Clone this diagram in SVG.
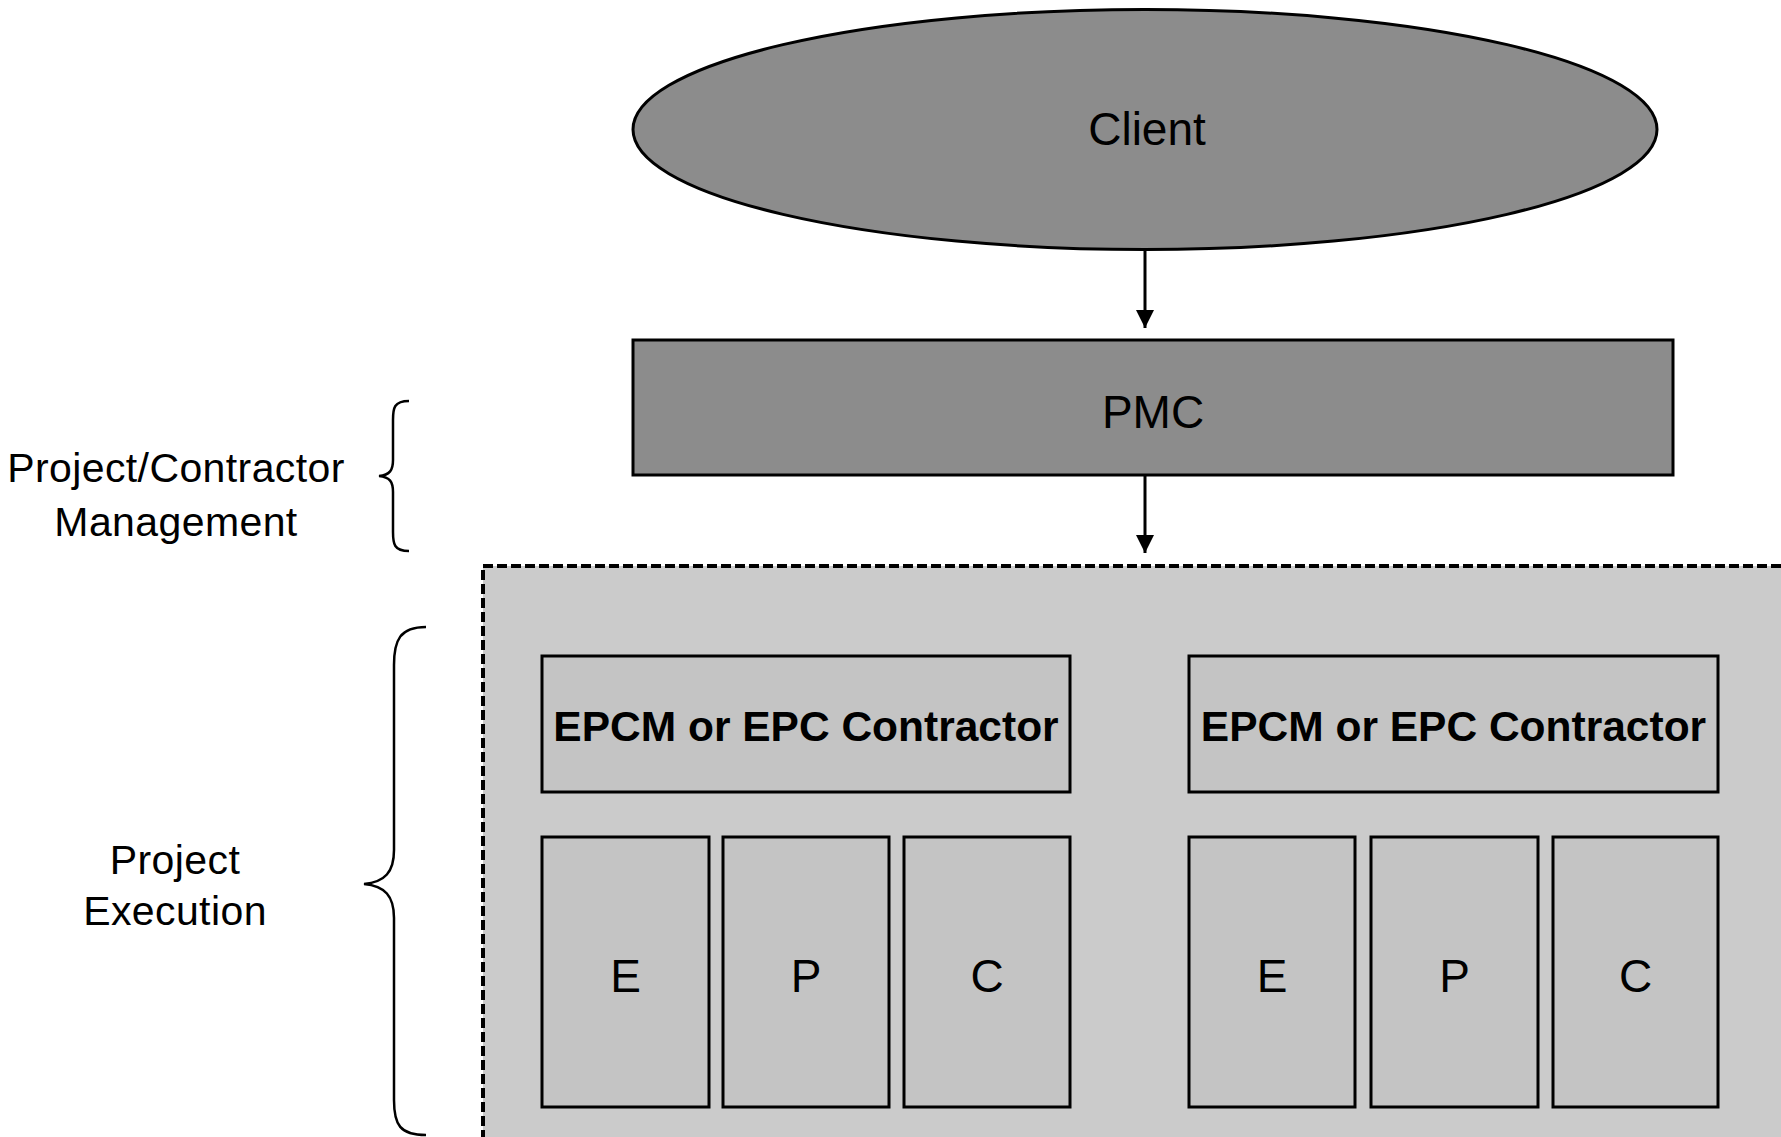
<svg xmlns="http://www.w3.org/2000/svg" width="1781" height="1137" viewBox="0 0 1781 1137">
<style>
text{font-family:"Liberation Sans",Arial,sans-serif;fill:#000;text-anchor:middle}
.lbl{font-size:41px;letter-spacing:0.4px}
.big{font-size:46px}
.bold{font-size:42.5px;font-weight:bold}
.box{fill:#c4c4c4;stroke:#000;stroke-width:3}
.dark{fill:#8c8c8c;stroke:#000;stroke-width:3}
.brace{fill:none;stroke:#000;stroke-width:2.5}
.conn{stroke:#000;stroke-width:3;fill:none}
</style>
<defs>
<marker id="arr" viewBox="0 0 18 18" refX="18" refY="9" markerWidth="18" markerHeight="18" markerUnits="userSpaceOnUse" orient="auto">
<path d="M0,0 L18,9 L0,18 z" fill="#000"/>
</marker>
</defs>
<rect width="1781" height="1137" fill="#fff"/>
<g id="labels">
<text class="lbl" x="176" y="482">Project/Contractor</text>
<text class="lbl" x="176" y="536">Management</text>
<text class="lbl" x="175" y="874">Project</text>
<text class="lbl" x="175" y="925">Execution</text>
<path class="brace" d="M409,401 C394,401 393,408 393,420 L393,460 C393,470 390,475 379,476 C390,477 393,482 393,492 L393,532 C393,544 394,551 409,551"/>
<path class="brace" d="M426,627 C400,627 394,640 394,665 L394,850 C394,872 385,882 364,884 C385,886 394,896 394,918 L394,1100 C394,1125 400,1135 426,1135"/>
</g>
<g id="container">
<rect x="483" y="566" width="1310" height="580" fill="#cbcbcb" stroke="#000" stroke-width="4" stroke-dasharray="10,4"/>
</g>
<g id="client">
<ellipse class="dark" cx="1145" cy="129.5" rx="512" ry="120"/>
<text class="big" x="1147" y="145">Client</text>
</g>
<g id="pmc">
<rect class="dark" x="633" y="340" width="1040" height="135"/>
<text class="big" x="1153" y="428">PMC</text>
</g>
<g id="contractor1">
<rect class="box" x="542" y="656" width="528" height="136"/>
<text class="bold" x="806" y="741">EPCM or EPC Contractor</text>
</g>
<g id="e1"><rect class="box" x="542" y="837" width="167" height="270"/><text class="big" x="625.5" y="992">E</text></g>
<g id="p1"><rect class="box" x="723" y="837" width="166" height="270"/><text class="big" x="806" y="992">P</text></g>
<g id="c1"><rect class="box" x="904" y="837" width="166" height="270"/><text class="big" x="987" y="992">C</text></g>
<g id="contractor2">
<rect class="box" x="1189" y="656" width="529" height="136"/>
<text class="bold" x="1453.5" y="741">EPCM or EPC Contractor</text>
</g>
<g id="e2"><rect class="box" x="1189" y="837" width="166" height="270"/><text class="big" x="1272" y="992">E</text></g>
<g id="p2"><rect class="box" x="1371" y="837" width="167" height="270"/><text class="big" x="1454.5" y="992">P</text></g>
<g id="c2"><rect class="box" x="1553" y="837" width="165" height="270"/><text class="big" x="1635.5" y="992">C</text></g>
<g id="connectors">
<line class="conn" x1="1145" y1="251" x2="1145" y2="328" marker-end="url(#arr)"/>
<line class="conn" x1="1145" y1="476" x2="1145" y2="553" marker-end="url(#arr)"/>
</g>
</svg>
